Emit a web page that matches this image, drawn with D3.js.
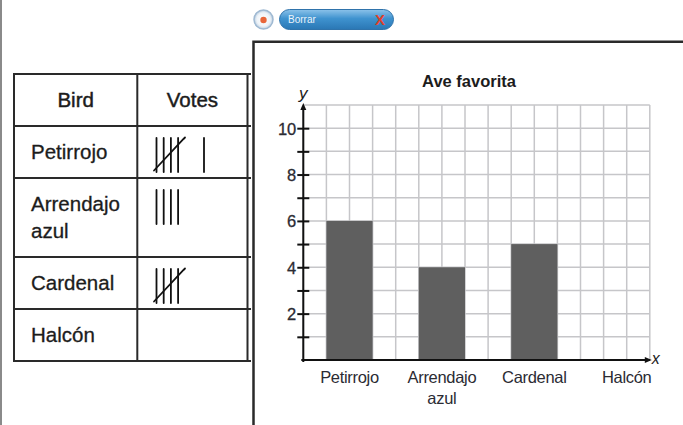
<!DOCTYPE html>
<html><head><meta charset="utf-8">
<script src="https://cdn.jsdelivr.net/npm/d3@7"></script>
<style>
html,body{margin:0;padding:0;background:#fff;}
svg{display:block;font-family:"Liberation Sans",Arial,sans-serif;}
</style></head>
<body>
<svg id="c" width="683" height="425"></svg>
<script>
// ---- data ----
const birds = ["Petirrojo", "Arrendajo azul", "Cardenal", "Halcón"];
const votes = [6, 4, 5, 0];
const tableHeaders = ["Bird", "Votes"];
const yTickValues = [1, 2, 3, 4, 5, 6, 7, 8, 9, 10];
const yLabelValues = [2, 4, 6, 8, 10];
const chartTitle = "Ave favorita";
const buttonLabel = "Borrar";

const svg = d3.select("#c");

// image left border
svg.append("line").attr("x1",1).attr("x2",1).attr("y1",0).attr("y2",425)
  .attr("stroke","#8a8a8a").attr("stroke-width",2);

// ---------- TABLE ----------
const tX = [14, 137.3, 247.5];
const tRight = 251;
const lineH = 27;
const rows = [tableHeaders].concat(birds.map((b,i)=>[b, votes[i]]));
const rowLines = rows.map(r => String(r[0]).split(" ").length);
const rowH = rowLines.map(n => 25 + lineH*n);
const rowTop = [74];
rowH.forEach((h,i)=>rowTop.push(rowTop[i]+h));
const table = svg.append("g");
const tStroke = "#2a2a2a";
const txtC = "#1c1c1c";
table.selectAll("line.h").data(rowTop).join("line")
  .attr("x1", tX[0]-1).attr("x2", tRight).attr("y1", d=>d).attr("y2", d=>d)
  .attr("stroke", tStroke).attr("stroke-width", 2);
table.selectAll("line.v").data(tX).join("line")
  .attr("x1", d=>d).attr("x2", d=>d).attr("y1", rowTop[0]).attr("y2", rowTop[rowTop.length-1])
  .attr("stroke", tStroke).attr("stroke-width", 2);
table.selectAll("text.hd").data(tableHeaders).join("text")
  .attr("x", (d,i)=>(tX[i]+tX[i+1])/2).attr("y", rowTop[0]+33)
  .attr("text-anchor","middle").attr("font-size",20.5).attr("fill",txtC)
  .attr("stroke",txtC).attr("stroke-width",0.45).text(d=>d);
birds.forEach((b,i)=>{
  const t = table.append("text").attr("x", 31).attr("y", rowTop[i+1]+32.5)
    .attr("font-size",20.5).attr("fill",txtC).attr("stroke",txtC).attr("stroke-width",0.3);
  b.split(" ").forEach((w,k)=>{
    t.append("tspan").attr("x",31).attr("dy", k===0?0:lineH).text(w);
  });
});
// tally marks
const tallyX0 = 156.5, tallyGap = 7.2, groupW = 47.5, tallyLen = 34;
birds.forEach((b,i)=>{
  const n = votes[i];
  const top = rowTop[i+1] + 12, bot = top + tallyLen;
  const groups = Math.floor(n/5), rem = n % 5;
  const g = table.append("g").attr("stroke","#111").attr("stroke-width",1.8).attr("stroke-linecap","round");
  for (let k=0;k<groups;k++){
    const gx0 = tallyX0 + k*groupW;
    for (let j=0;j<4;j++) g.append("line").attr("x1",gx0+j*tallyGap).attr("x2",gx0+j*tallyGap).attr("y1",top).attr("y2",bot);
    g.append("path").attr("fill","none")
      .attr("d",`M${gx0-2.5},${bot-1.5} L${gx0+27},${top+1} l1.5,-1.5`);
  }
  for (let j=0;j<rem;j++){
    const x = tallyX0 + groups*groupW + j*tallyGap;
    g.append("line").attr("x1",x).attr("x2",x).attr("y1",top).attr("y2",bot);
  }
});

// ---------- BUTTONS ----------
const defs = svg.append("defs");
const pg = defs.append("linearGradient").attr("id","pill").attr("x1",0).attr("x2",0).attr("y1",0).attr("y2",1);
pg.append("stop").attr("offset","0%").attr("stop-color","#8cc3ea");
pg.append("stop").attr("offset","45%").attr("stop-color","#3f93cf");
pg.append("stop").attr("offset","100%").attr("stop-color","#2a77b4");
const cg = defs.append("radialGradient").attr("id","circ");
cg.append("stop").attr("offset","0%").attr("stop-color","#ffffff");
cg.append("stop").attr("offset","70%").attr("stop-color","#eef3f8");
cg.append("stop").attr("offset","100%").attr("stop-color","#b9cde0");
svg.append("circle").attr("cx",263.5).attr("cy",19.5).attr("r",9.5)
  .attr("fill","url(#circ)").attr("stroke","#9fb9d2").attr("stroke-width",1.5);
svg.append("circle").attr("cx",263.5).attr("cy",20).attr("r",3.2).attr("fill","#e8663a");
svg.append("rect").attr("x",279.5).attr("y",9.5).attr("width",114).attr("height",20).attr("rx",10)
  .attr("fill","url(#pill)").attr("stroke","#2f73ab").attr("stroke-width",1);
svg.append("text").attr("x",288).attr("y",23).attr("font-size",10).attr("fill","#ffffff")
  .attr("opacity",0.9).text(buttonLabel);
svg.append("text").attr("x",380).attr("y",25).attr("font-size",15).attr("font-weight","bold")
  .attr("text-anchor","middle").attr("fill","#e2412a").text("X");

// ---------- CHART FRAME ----------
svg.append("path").attr("d","M253.5,425 V41.7 H683").attr("fill","none")
  .attr("stroke","#2a2a2a").attr("stroke-width",2.5);

// ---------- CHART ----------
const nCols = 15, nRows = 11;
const gx = d3.scaleLinear().domain([0, nCols]).range([303.3, 649.8]);
const gy = d3.scaleLinear().domain([0, nRows]).range([360, 105]);
const xBand = d3.scaleBand().domain(birds).range([gx(0), gx(16)]).paddingInner(0.5).paddingOuter(0.25);

const grid = svg.append("g").attr("stroke","#c6c6c9").attr("stroke-width",1.5);
grid.selectAll("line.gv").data(d3.range(0, nCols+1)).join("line")
  .attr("x1", d=>gx(d)).attr("x2", d=>gx(d)).attr("y1", gy(0)).attr("y2", gy(nRows));
grid.selectAll("line.gh").data(d3.range(0, nRows+1)).join("line")
  .attr("x1", gx(0)).attr("x2", gx(nCols)).attr("y1", d=>gy(d)).attr("y2", d=>gy(d));

svg.append("g").selectAll("rect").data(birds).join("rect")
  .attr("x", d=>xBand(d)).attr("width", xBand.bandwidth())
  .attr("y", (d,i)=>gy(votes[i])).attr("height", (d,i)=>gy(0)-gy(votes[i]))
  .attr("fill","#5f5f5f");

svg.append("text").attr("x",469).attr("y",87).attr("text-anchor","middle")
  .attr("font-size",16.5).attr("font-weight","bold").attr("fill",txtC).text(chartTitle);

const axC = "#111";
svg.append("line").attr("x1",gx(0)).attr("x2",gx(0)).attr("y1",gy(0)+2).attr("y2",gy(nRows)+2)
  .attr("stroke",axC).attr("stroke-width",2);
svg.append("path").attr("d",`M${gx(0)-3},${gy(nRows)+5} L${gx(0)},${gy(nRows)-2} L${gx(0)+3},${gy(nRows)+5} Z`).attr("fill",axC);
svg.append("line").attr("x1",gx(0)-2).attr("x2",gx(nCols)).attr("y1",gy(0)).attr("y2",gy(0))
  .attr("stroke",axC).attr("stroke-width",2);
svg.append("path").attr("d",`M${gx(nCols)-5},${gy(0)-3} L${gx(nCols)+2},${gy(0)} L${gx(nCols)-5},${gy(0)+3} Z`).attr("fill",axC);

const yAx = svg.append("g").attr("transform",`translate(${gx(0)},0)`)
  .call(d3.axisLeft(gy).tickValues(yTickValues).tickSize(6).tickPadding(8)
    .tickFormat(d => yLabelValues.includes(d) ? d : ""));
yAx.select(".domain").remove();
yAx.selectAll(".tick line").attr("x1",-6).attr("x2",6).attr("stroke",axC).attr("stroke-width",2);
yAx.selectAll(".tick text").attr("font-size",16.5).attr("fill","#2b2b33")
  .attr("stroke","#2b2b33").attr("stroke-width",0.3)
  .attr("font-family","Liberation Sans, Arial, sans-serif").attr("dy","0.36em").attr("x",-7);

const xAx = svg.append("g").attr("transform",`translate(0,${gy(0)})`)
  .call(d3.axisBottom(xBand).tickSize(0));
xAx.select(".domain").remove();
xAx.selectAll(".tick text").each(function(d){
  const t = d3.select(this).text(null).attr("y",22.5).attr("dy",null)
    .attr("font-size",16.5).attr("fill","#2b2b33").attr("letter-spacing",-0.3)
    .attr("font-family","Liberation Sans, Arial, sans-serif");
  d.split(" ").forEach((w,k)=>{
    t.append("tspan").attr("x",0).attr("dy", k===0?0:21.5).text(w);
  });
});

svg.append("text").attr("x",gx(0)).attr("y",98.5).attr("text-anchor","middle")
  .attr("font-size",17).attr("font-style","italic").attr("fill",txtC).text("y");
svg.append("text").attr("x",gx(nCols)+2).attr("y",364).attr("font-size",16)
  .attr("font-style","italic").attr("fill",txtC).text("x");
</script>
</body></html>
